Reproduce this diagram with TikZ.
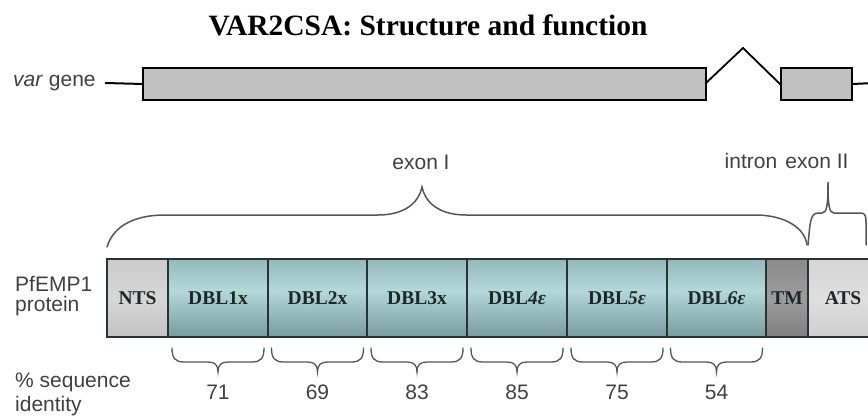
\documentclass[tikz,border=0pt]{standalone}
\usepackage{fontspec}
\setmainfont{Liberation Serif}
\setsansfont{Liberation Sans}
\definecolor{lbl}{HTML}{404040}
\definecolor{brc}{HTML}{555555}
\definecolor{genefill}{HTML}{C0C0C0}
\definecolor{edge}{HTML}{263434}
\definecolor{domtext}{HTML}{1C2828}
\definecolor{dblA}{HTML}{465E60}
\definecolor{dblB}{HTML}{789B9D}
\definecolor{dblC}{HTML}{B4D8DA}
\definecolor{dblD}{HTML}{86A9AB}
\definecolor{dblE}{HTML}{5C7B7D}
\definecolor{ntsA}{HTML}{B0B0B0}
\definecolor{ntsB}{HTML}{D6D6D6}
\definecolor{ntsC}{HTML}{C0C0C0}
\definecolor{tmA}{HTML}{626262}
\definecolor{tmB}{HTML}{9C9C9C}
\definecolor{tmC}{HTML}{787878}
\definecolor{atsA}{HTML}{C0C0C0}
\definecolor{atsB}{HTML}{DEDEDE}
\definecolor{atsC}{HTML}{CDCDCD}
% vertical shadings for the protein domains (bottom to top)
\pgfdeclareverticalshading{dblshade}{100bp}{
  color(0bp)=(dblA); color(25bp)=(dblB); color(55bp)=(dblC);
  color(85bp)=(dblD); color(100bp)=(dblE)}
\pgfdeclareverticalshading{ntsshade}{100bp}{
  color(0bp)=(ntsA); color(50bp)=(ntsB); color(100bp)=(ntsC)}
\pgfdeclareverticalshading{tmshade}{100bp}{
  color(0bp)=(tmA); color(50bp)=(tmB); color(100bp)=(tmC)}
\pgfdeclareverticalshading{atsshade}{100bp}{
  color(0bp)=(atsA); color(50bp)=(atsB); color(100bp)=(atsC)}
\tikzset{
  sanslbl/.style={font=\sffamily\fontsize{21}{24}\selectfont, text=lbl, inner sep=0pt},
  exonbox/.style={draw=black, line width=2pt, fill=genefill, inner sep=0pt, outer sep=0pt, minimum height=32pt},
  seg/.style={draw=edge, line width=1.4pt, inner sep=0pt, outer sep=0pt, minimum height=78pt,
    font=\bfseries\fontsize{19.5}{20}\selectfont, text=domtext},
  dbl/.style={seg, shading=dblshade},
  greyseg/.style={seg, shading=#1},
  bracestroke/.style={draw=brc, line width=1.5pt, line cap=round},
  smallbrace/.style={draw=brc, line width=1.3pt, line cap=round},
  pct/.style={font=\sffamily\fontsize{21}{24}\selectfont, text=lbl, inner sep=0pt}
}
\begin{document}
\begin{tikzpicture}[x=1pt, y=-1pt]
  \clip (0,0) rectangle (868,417);
  \useasboundingbox (0,0) rectangle (868,417);

  % title
  \node[font=\bfseries\fontsize{29.5}{32}\selectfont, inner sep=0pt] (title) at (428,25) {VAR2CSA: Structure and function};

  % gene model: exon I, intron, exon II
  \node[sanslbl, anchor=west] (genelbl) at (13,83) {\textit{var} gene};
  \node[exonbox, minimum width=563pt] (ex1) at (424.5,84) {};
  \node[exonbox, minimum width=71pt] (ex2) at (816.5,84) {};
  \coordinate (genestart) at (105,83);
  \coordinate (geneend) at (875,83);
  \coordinate (apex) at (743,48);
  \draw[line width=2pt] (genestart) -- (ex1.west);
  \draw[line width=1.8pt] ([yshift=1pt]ex1.east) -- (apex) -- ([yshift=-1pt]ex2.west);
  \draw[line width=2pt] (ex2.east) -- (geneend);

  % exon / intron labels
  \node[sanslbl] (exIlbl) at (421,162) {exon I};
  \node[sanslbl] (intronlbl) at (751,161) {intron};
  \node[sanslbl] (exIIlbl) at (817,161) {exon II};

  % brace over exon I
  \draw[bracestroke] (107,247) .. controls (113,227) and (133,215) .. (165,215) -- (378,215)
        .. controls (402,215) and (418,205) .. (422,187)
        .. controls (426,205) and (442,215) .. (466,215) -- (755,215)
        .. controls (785,215) and (805,228) .. (807,245);
  % brace over exon II
  \draw[bracestroke] (808,245) .. controls (810,224) and (810,213) .. (818,213) -- (822,213)
        .. controls (827,213) and (828,205) .. (828,182)
        .. controls (828,205) and (829,213) .. (834,213) -- (861,213)
        .. controls (865,213) and (866,216) .. (866,222) -- (866,245);

  % PfEMP1 protein
  \node[sanslbl, anchor=west] (plbl1) at (15,284) {PfEMP1};
  \node[sanslbl, anchor=west] (plbl2) at (15,306) {protein};

  \node[greyseg=ntsshade, minimum width=61pt] (nts) at (137.5,298) {NTS};
  \node[dbl, minimum width=100pt] (d1) at (218,298) {DBL1x};
  \node[dbl, minimum width=99pt] (d2) at (317.5,298) {DBL2x};
  \node[dbl, minimum width=100pt] (d3) at (417,298) {DBL3x};
  \node[dbl, minimum width=100pt] (d4) at (517,298) {DBL\textit{4ε}};
  \node[dbl, minimum width=100pt] (d5) at (617,298) {DBL\textit{5ε}};
  \node[dbl, minimum width=99pt] (d6) at (716.5,298) {DBL\textit{6ε}};
  \node[greyseg=tmshade, minimum width=42pt] (tm) at (787,298) {TM};
  \node[greyseg=atsshade, minimum width=70pt] (ats) at (843,298) {ATS};
  \draw[edge, line width=2.2pt] (nts.north west) -- (ats.north east);
  \draw[edge, line width=2.2pt] (nts.south west) -- (ats.south east);
  \draw[edge, line width=2.2pt] (nts.north west) -- (nts.south west);

  % sequence identity braces
  \node[sanslbl, anchor=west] (slbl1) at (15,382) {\% sequence};
  \node[sanslbl, anchor=west] (slbl2) at (15,406) {identity};
  \foreach \d/\v in {d1/71, d2/69, d3/83, d4/85, d5/75, d6/54} {
    \coordinate (c) at (\d.south);
    \draw[smallbrace] ([shift={(-46,11)}]c) .. controls ([shift={(-46,21)}]c) and ([shift={(-43,25)}]c) .. ([shift={(-34,25)}]c)
      -- ([shift={(-10,25)}]c) .. controls ([shift={(-3,25)}]c) and ([shift={(0,28)}]c) .. ([shift={(0,35)}]c)
      .. controls ([shift={(0,28)}]c) and ([shift={(3,25)}]c) .. ([shift={(10,25)}]c)
      -- ([shift={(34,25)}]c) .. controls ([shift={(43,25)}]c) and ([shift={(46,21)}]c) .. ([shift={(46,11)}]c);
    \node[pct] (n\d) at ([shift={(0,55)}]c) {\v};
  }
\end{tikzpicture}
\end{document}
